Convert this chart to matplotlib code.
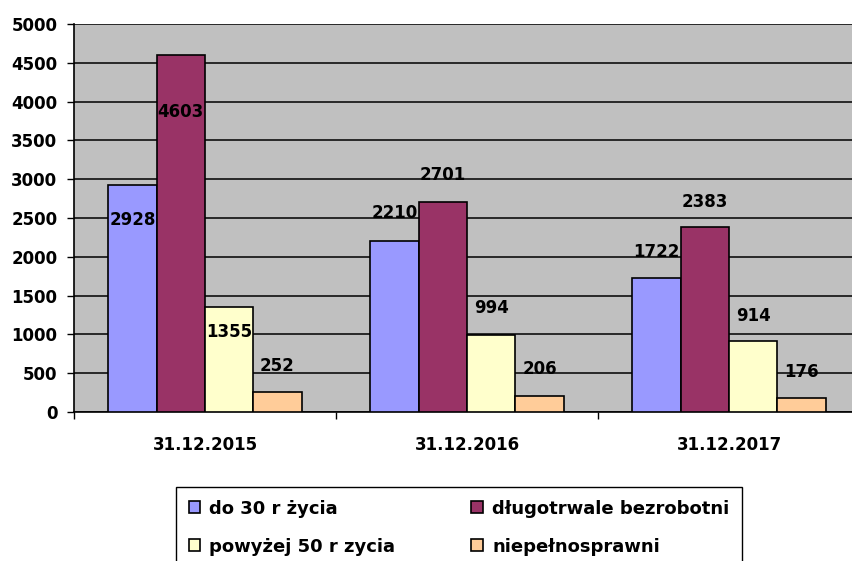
import numpy as np
import matplotlib
matplotlib.use("Agg")
import matplotlib.pyplot as plt

# Dane z wykresu
dates = ["31.12.2015", "31.12.2016", "31.12.2017"]
series_names = ["do 30 r życia", "długotrwale bezrobotni",
                "powyżej 50 r zycia", "niepełnosprawni"]
do_30 = [2928, 2210, 1722]
dlugotrwale = [4603, 2701, 2383]
powyzej_50 = [1355, 994, 914]
niepelnosprawni = [252, 206, 176]

colors = ["#9999FF", "#993366", "#FFFFCC", "#FFCC99"]

# pozycje etykiet (wysokosc w jednostkach osi), jak w oryginale
label_y = [
    [2474, 2564, 2062],
    [3866, 3054, 2706],
    [1031, 1340, 1237],
    [593, 554, 515],
]

plt.rcParams["font.family"] = ["DejaVu Sans"]
plt.rcParams["font.weight"] = "bold"

fig = plt.figure(figsize=(8.53, 5.61), dpi=100)
ax = fig.add_axes([74 / 853, 1 - 412 / 561, 786 / 853, 388 / 561])
ax.set_facecolor("#C0C0C0")

series = [do_30, dlugotrwale, powyzej_50, niepelnosprawni]
x = np.arange(len(dates))
width = 48.3 / 262

bars = []
for i, (vals, name, col) in enumerate(zip(series, series_names, colors)):
    pos = x + (i - 1.5) * width
    b = ax.bar(pos, vals, width, color=col, edgecolor="black", linewidth=1.2,
               label=name, zorder=3)
    bars.append(b)
    for xp, v, ly in zip(pos, vals, label_y[i]):
        ax.text(xp, ly, str(v), ha="center", va="center", fontsize=12,
                fontweight="bold", zorder=4)

ax.set_xlim(-0.5, 2.5)
ax.set_ylim(0, 5000)
ax.set_yticks(range(0, 5001, 500))
ax.yaxis.grid(True, color="black", linewidth=1.1, zorder=1)
ax.set_axisbelow(True)

# etykiety kategorii miedzy tickami
ax.set_xticks([-0.5, 0.5, 1.5, 2.5])
ax.set_xticklabels([])
ax.set_xticks(x, minor=True)
ax.set_xticklabels(dates, minor=True, fontsize=12, fontweight="bold")
ax.tick_params(axis="x", which="minor", length=0, pad=17)
ax.tick_params(axis="x", which="major", length=5, width=1, color="black")
ax.tick_params(axis="y", length=5, width=1, pad=7, labelsize=12)
for lbl in ax.get_yticklabels():
    lbl.set_fontweight("bold")

for side in ["top", "right"]:
    ax.spines[side].set_visible(False)
for side in ["left", "bottom"]:
    ax.spines[side].set_linewidth(1.2)
    ax.spines[side].set_color("black")

# legenda: kolejnosc wierszami (ncol=2 wypelnia kolumnami)
order = [0, 2, 1, 3]
leg = fig.legend([bars[k] for k in order], [series_names[k] for k in order],
                 loc="upper left", bbox_to_anchor=(176 / 853, 1 - 487 / 561),
                 ncol=2, frameon=True, fancybox=False,
                 prop={"size": 13, "weight": "bold"}, handlelength=0.65,
                 handleheight=0.65, handletextpad=0.5, borderpad=0.7,
                 labelspacing=1.1, borderaxespad=0, columnspacing=4.2)
leg.get_frame().set_edgecolor("black")
leg.get_frame().set_linewidth(1.0)
leg.get_frame().set_alpha(1)

fig.savefig("out.png", dpi=100)
